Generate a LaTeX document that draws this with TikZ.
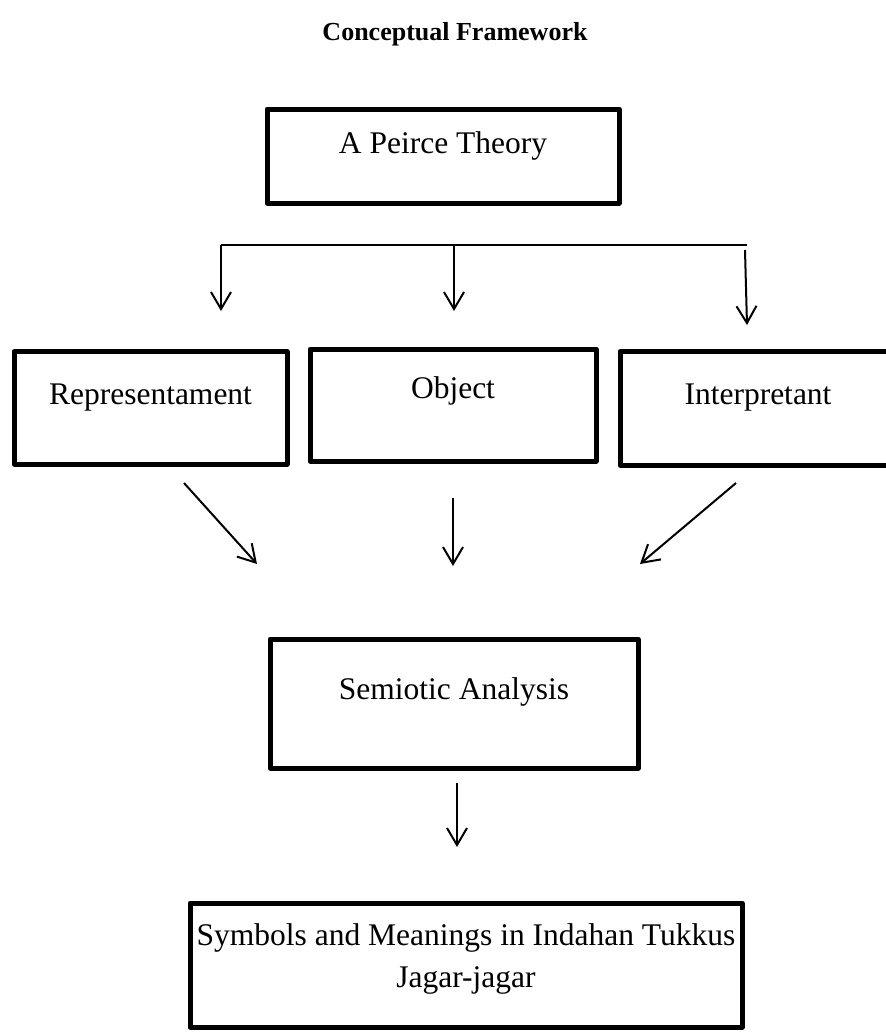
\documentclass[tikz,border=0pt]{standalone}
\usepackage{fontspec}
\setmainfont{Liberation Serif}
\usetikzlibrary{arrows.meta}
\begin{document}
\begin{tikzpicture}[x=1pt,y=-1pt,
  box/.style={draw, line width=5pt, line join=round, inner sep=0pt,
    font=\fontsize{31.5}{42}\selectfont, align=center},
  arr/.style={line width=2pt, -{Straight Barb[length=17pt,width=20pt]}},
  bar/.style={line width=1.5pt}]
\clip (0,0) rectangle (886,1034);
% title
\node[font=\bfseries\fontsize{26}{30}\selectfont, anchor=base] (title) at (455,40) {Conceptual Framework};
% boxes
\node[box, minimum width=352pt, text height=44pt, text depth=50pt] (peirce) at (443,156) {A Peirce Theory};
\node[box, minimum width=273pt, text height=52.5pt, text depth=60pt] (rep) at (150.5,407.75) {Representament};
\node[box, minimum width=286pt, text height=49pt, text depth=63pt] (obj) at (453,405) {Object};
\node[box, minimum width=276pt, text height=52.5pt, text depth=61pt] (interp) at (758,408.25) {Interpretant};
\node[box, minimum width=368pt, text height=60pt, text depth=69pt] (sem) at (454,703.5) {Semiotic Analysis};
\node[box, minimum width=552pt, text height=84pt, text depth=40pt] (res) at (466,965) {Symbols and Meanings in Indahan Tukkus\\Jagar-jagar};
% branching connector
\coordinate (bl) at (221,245);
\coordinate (bm) at (454,245);
\coordinate (br) at (747,245);
\coordinate (t1) at (221,311);
\coordinate (t2) at (454,311);
\coordinate (rs) at (745,250);
\coordinate (t3) at (747,325);
\draw[bar] (bl) -- (br);
\draw[arr] (bl) -- (t1);
\draw[arr] (bm) -- (t2);
\draw[arr] (rs) -- (t3);
% converging arrows
\coordinate (c1s) at (184,483);
\coordinate (c1e) at (257,564);
\coordinate (c2s) at (453,498);
\coordinate (c2e) at (453,566);
\coordinate (c3s) at (736,483);
\coordinate (c3e) at (640,564);
\draw[arr] (c1s) -- (c1e);
\draw[arr] (c2s) -- (c2e);
\draw[arr] (c3s) -- (c3e);
% final arrow
\coordinate (d1) at (457,783);
\coordinate (d2) at (457,847);
\draw[arr] (d1) -- (d2);
\end{tikzpicture}
\end{document}
